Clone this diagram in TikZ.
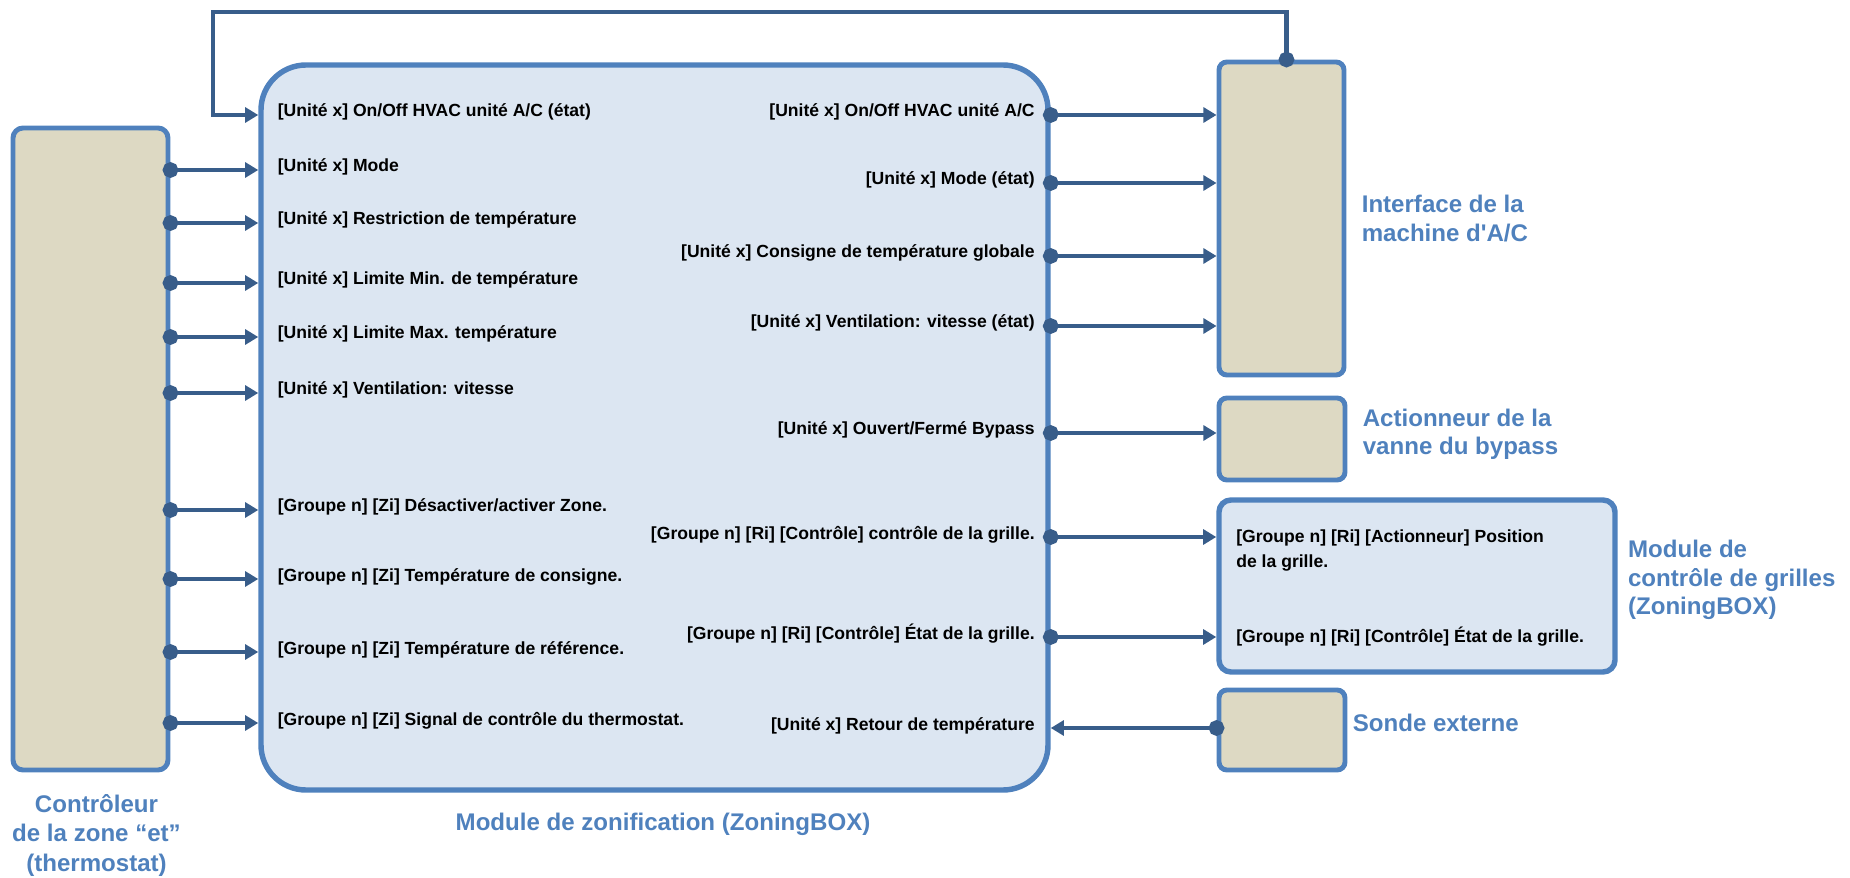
\documentclass[tikz,border=0pt]{standalone}
\usepackage{fontspec}
\setmainfont{Liberation Sans}
\usepackage{tikz}
\usetikzlibrary{arrows.meta,positioning}
\definecolor{zoneblue}{HTML}{4F81BD}
\definecolor{linkblue}{HTML}{385D8A}
\definecolor{zonefill}{HTML}{DCE6F2}
\definecolor{sandfill}{HTML}{DDD9C3}
\tikzstyle{sandbox}=[draw=zoneblue, line width=2.8pt, fill=sandfill, rounded corners=4.5pt, inner sep=0pt]
\tikzstyle{zonebox}=[draw=zoneblue, line width=3.1pt, fill=zonefill, inner sep=0pt]
\tikzstyle{siglabel}=[font=\fontsize{10}{12}\selectfont\bfseries, inner sep=0pt, text height=0.26cm, text depth=0.18cm]
\tikzstyle{boxlabel}=[font=\fontsize{10}{13.7}\selectfont\bfseries, inner sep=0pt, align=left]
\tikzstyle{boxtitle}=[text=zoneblue, font=\fontsize{13.7}{16.2}\selectfont\bfseries, inner sep=0pt, align=left]
\tikzstyle{link}=[draw=linkblue, line width=2.7pt, {Circle[length=8.9pt]}-{Triangle[length=7.5pt,width=8.5pt]}, shorten <=-4.45pt]
\newcommand{\sigIn}[3]{
	\node[siglabel, anchor=west] (#1) at (5.55,#2) {#3};
	\draw[link] (ctrl.east |- #1) -- (zbox.west |- #1);
}
\newcommand{\sigOut}[4]{
	\node[siglabel, anchor=east] (#1) at (20.70,#2) {#4};
	\draw[link] (zbox.east |- #1) -- (#3.west |- #1);
}
\begin{document}
\begin{tikzpicture}
	\useasboundingbox (0,0) rectangle (37,-17.56);
	\node[sandbox, rounded corners=5.7pt, minimum width=3.1cm, minimum height=12.84cm] (ctrl) at (1.81,-8.98) {};
	\node[zonebox, rounded corners=0.9cm, minimum width=15.74cm, minimum height=14.5cm] (zbox) at (13.09,-8.55) {};
	\node[sandbox, minimum width=2.5cm, minimum height=6.26cm] (acif) at (25.63,-4.37) {};
	\node[sandbox, minimum width=2.52cm, minimum height=1.64cm] (bypass) at (25.64,-8.78) {};
	\node[zonebox, rounded corners=6.8pt, minimum width=7.92cm, minimum height=3.44cm] (grille) at (28.34,-11.72) {};
	\node[sandbox, minimum width=2.52cm, minimum height=1.6cm] (sonde) at (25.64,-14.6) {};

	\node[siglabel, anchor=west] (lonoff) at (5.55,-2.30) {[Unité x] On/Off HVAC unité A/C (état)};
	\coordinate (fbcorner) at (4.26,-0.24);
	\draw[link] ([xshift=0.1cm]acif.north) |- (fbcorner) |- (zbox.west |- lonoff);
	\sigIn{lmode}{-3.40}{[Unité x] Mode}
	\sigIn{lrestr}{-4.46}{[Unité x] Restriction de température}
	\sigIn{lmin}{-5.66}{[Unité x] Limite Min. de température}
	\sigIn{lmax}{-6.74}{[Unité x] Limite Max. température}
	\sigIn{lvent}{-7.86}{[Unité x] Ventilation: vitesse}
	\sigIn{lzone}{-10.20}{[Groupe n] [Zi] Désactiver/activer Zone.}
	\sigIn{lcons}{-11.58}{[Groupe n] [Zi] Température de consigne.}
	\sigIn{lref}{-13.04}{[Groupe n] [Zi] Température de référence.}
	\sigIn{lsig}{-14.46}{[Groupe n] [Zi] Signal de contrôle du thermostat.}

	\sigOut{ronoff}{-2.30}{acif}{[Unité x] On/Off HVAC unité A/C}
	\sigOut{rmode}{-3.66}{acif}{[Unité x] Mode (état)}
	\sigOut{rcons}{-5.12}{acif}{[Unité x] Consigne de température globale}
	\sigOut{rvent}{-6.52}{acif}{[Unité x] Ventilation: vitesse (état)}
	\sigOut{rbyp}{-8.66}{bypass}{[Unité x] Ouvert/Fermé Bypass}
	\sigOut{rgctl}{-10.74}{grille}{[Groupe n] [Ri] [Contrôle] contrôle de la grille.}
	\sigOut{rgetat}{-12.74}{grille}{[Groupe n] [Ri] [Contrôle] État de la grille.}
	\node[siglabel, anchor=east] (rret) at (20.70,-14.56) {[Unité x] Retour de température};
	\draw[link] (sonde.west |- rret) -- (zbox.east |- rret);

	\node[boxlabel, anchor=west] (gpos) at (24.72,-11.01) {[Groupe n] [Ri] [Actionneur] Position\\de la grille.};
	\node[siglabel, anchor=west] (getat) at (24.72,-12.80) {[Groupe n] [Ri] [Contrôle] État de la grille.};

	\node[boxtitle, right=0.3cm of acif] (acift) {Interface de la\\machine d\textquotesingle A/C};
	\node[boxtitle, right=0.3cm of bypass, yshift=0.09cm] (bypasst) {Actionneur de la\\vanne du bypass};
	\node[boxtitle, right=0.2cm of grille, yshift=0.12cm] (grillet) {Module de\\contrôle de grilles\\(ZoningBOX)};
	\node[boxtitle, right=0.1cm of sonde, yshift=0.14cm] (sondet) {Sonde externe};
	\node[boxtitle, below=0.39cm of zbox, xshift=0.17cm] (zboxt) {Module de zonification (ZoningBOX)};
	\node[boxtitle, align=center, font=\fontsize{13.7}{16.8}\selectfont\bfseries, below=0.43cm of ctrl, xshift=0.12cm] (ctrlt) {Contrôleur\\de la zone “et”\\(thermostat)};
\end{tikzpicture}
\end{document}
